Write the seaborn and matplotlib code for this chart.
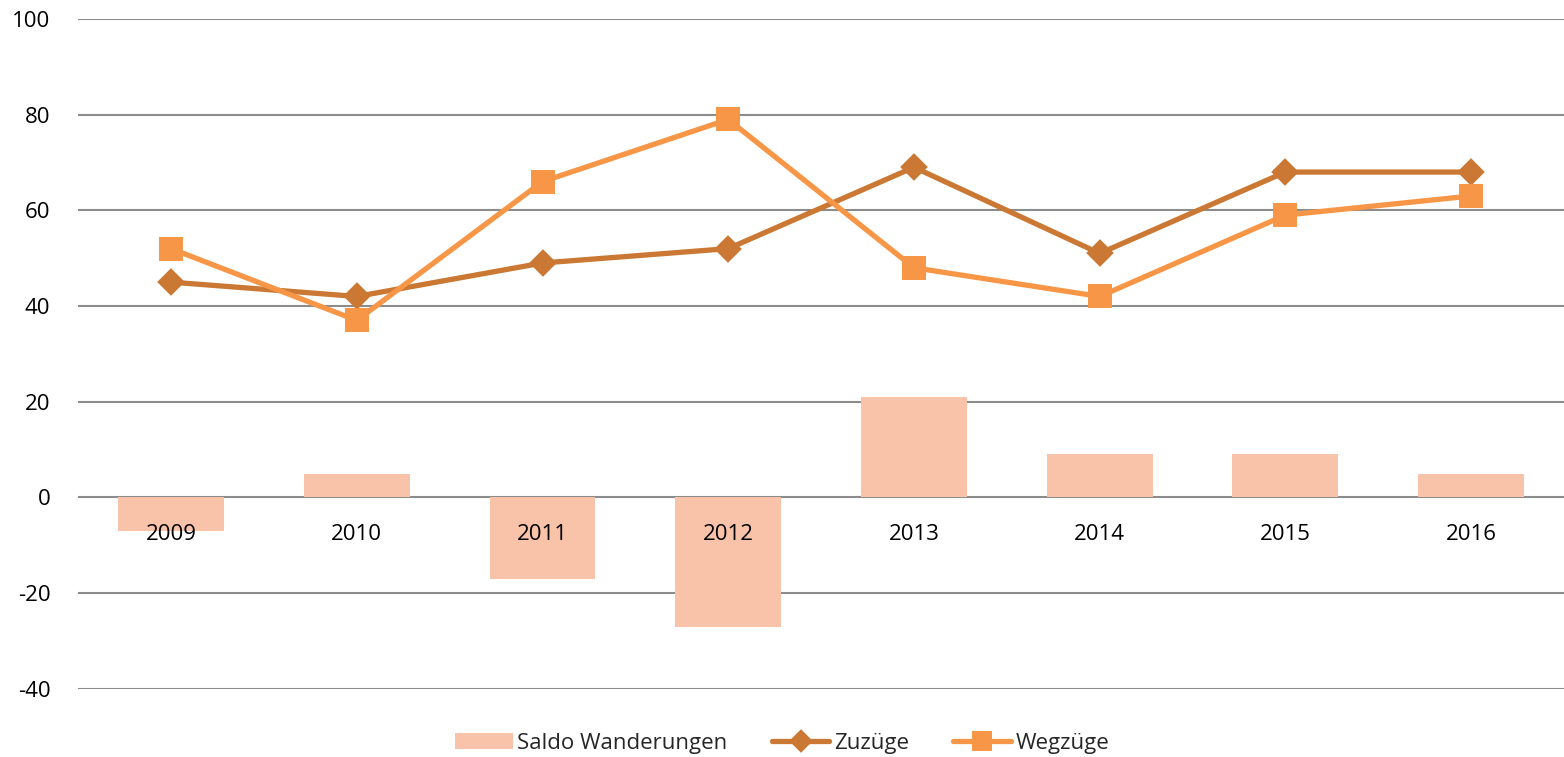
import matplotlib
matplotlib.use("Agg")
import matplotlib.pyplot as plt
import seaborn as sns
import pandas as pd

years = ["2009", "2010", "2011", "2012", "2013", "2014", "2015", "2016"]
saldo = [-7, 5, -17, -27, 21, 9, 9, 5]
zuzuege = [45, 42, 49, 52, 69, 51, 68, 68]
wegzuege = [52, 37, 66, 79, 48, 42, 59, 63]

c_bar = "#F8C3A8"
c_zu = "#CA7833"
c_weg = "#F79646"

sns.set_style("white")
plt.rcParams["font.family"] = ["Open Sans", "DejaVu Sans"]
plt.rcParams["font.size"] = 16
plt.rcParams["axes.unicode_minus"] = False

df = pd.DataFrame({"Jahr": years, "Saldo": saldo,
                   "Zuzuege": zuzuege, "Wegzuege": wegzuege})

fig = plt.figure(figsize=(15.64, 7.57), dpi=100)
ax = fig.add_axes([0.05, 0.09, 0.95, 0.885])

sns.barplot(data=df, x="Jahr", y="Saldo", color=c_bar, width=0.57,
            saturation=1, linewidth=0, ax=ax, label="Saldo Wanderungen")
sns.pointplot(data=df, x="Jahr", y="Zuzuege", color=c_zu, marker="D",
              markersize=11, linewidth=3.8, ax=ax, label="Zuzüge")
sns.pointplot(data=df, x="Jahr", y="Wegzuege", color=c_weg, marker="s",
              markersize=14, linewidth=3.8, ax=ax, label="Wegzüge")

ax.set_xlim(-0.5, 7.5)
ax.set_ylim(-40, 100)
ax.set_yticks(range(-40, 101, 20))
ax.yaxis.grid(True, color="#8c8c8c", linewidth=1.5)
ax.set_axisbelow(True)
ax.xaxis.set_zorder(5)
ax.set_xlabel("")
ax.set_ylabel("")
for s in ["top", "right", "left"]:
    ax.spines[s].set_visible(False)
ax.spines["bottom"].set_position(("data", 0))
ax.spines["bottom"].set_visible(False)
ax.tick_params(axis="x", length=0, pad=19, labelcolor="black")
ax.tick_params(axis="y", length=0, pad=20, labelcolor="black")

handles, labels = ax.get_legend_handles_labels()
order = [labels.index("Saldo Wanderungen"), labels.index("Zuzüge"), labels.index("Wegzüge")]
if ax.get_legend() is not None:
    ax.get_legend().remove()
fig.legend([handles[i] for i in order], [labels[i] for i in order],
           loc="lower center", bbox_to_anchor=(0.5, -0.022),
           ncol=3, frameon=False, handlelength=2.6, columnspacing=2.0,
           handletextpad=0.2, fontsize=16, markerscale=0.8)

fig.savefig("out.png", dpi=100)
